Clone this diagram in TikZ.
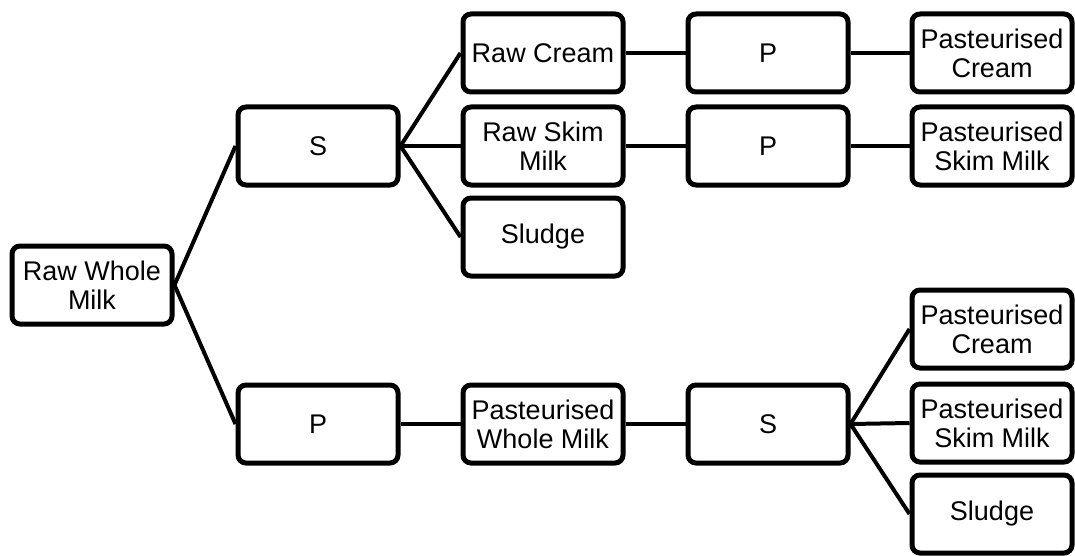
\documentclass[tikz,border=0pt]{standalone}
\usepackage{fontspec}
\setmainfont{Liberation Sans}
\usepackage{tikz}
\tikzset{box/.style={draw, line width=2.5pt, rounded corners=4pt,
  minimum width=80pt, minimum height=39pt, inner sep=0pt, align=center,
  font=\fontsize{13.5}{14.5}\selectfont}}
\tikzset{link/.style={line width=2pt}}

\begin{document}
\begin{tikzpicture}[x=0.5pt, y=-0.5pt]
      \useasboundingbox (0, 0) rectangle (1075, 556);

      \node [box] (rawmilk) at (92, 285) {Raw Whole\\Milk};

      \node [box] (sepA) at (318, 146) {S};
      \node [box] (rawcream) at (543, 53) {Raw Cream};
      \node [box] (rawskim) at (543, 146) {Raw Skim\\Milk};
      \node [box] (sludgeA) at (543, 237) {Sludge};
      \node [box] (pasA) at (768, 53) {P};
      \node [box] (pasB) at (768, 146) {P};
      \node [box] (pcreamA) at (992, 53) {Pasteurised\\Cream};
      \node [box] (pskimA) at (992, 146) {Pasteurised\\Skim Milk};

      \node [box] (pasC) at (318, 424) {P};
      \node [box] (pwhole) at (543, 424) {Pasteurised\\Whole Milk};
      \node [box] (sepB) at (768, 424) {S};
      \node [box] (pcreamB) at (992, 329) {Pasteurised\\Cream};
      \node [box] (pskimB) at (992, 423) {Pasteurised\\Skim Milk};
      \node [box] (sludgeB) at (992, 514) {Sludge};

      \draw [link] (rawmilk.east) -- (sepA.west);
      \draw [link] (rawmilk.east) -- (pasC.west);

      \draw [link] (sepA.east) -- (rawcream.west);
      \draw [link] (sepA.east) -- (rawskim.west);
      \draw [link] (sepA.east) -- (sludgeA.west);
      \draw [link] (rawcream) -- (pasA) -- (pcreamA);
      \draw [link] (rawskim) -- (pasB) -- (pskimA);

      \draw [link] (pasC) -- (pwhole) -- (sepB);
      \draw [link] (sepB.east) -- (pcreamB.west);
      \draw [link] (sepB.east) -- (pskimB.west);
      \draw [link] (sepB.east) -- (sludgeB.west);
    \end{tikzpicture}
\end{document}
